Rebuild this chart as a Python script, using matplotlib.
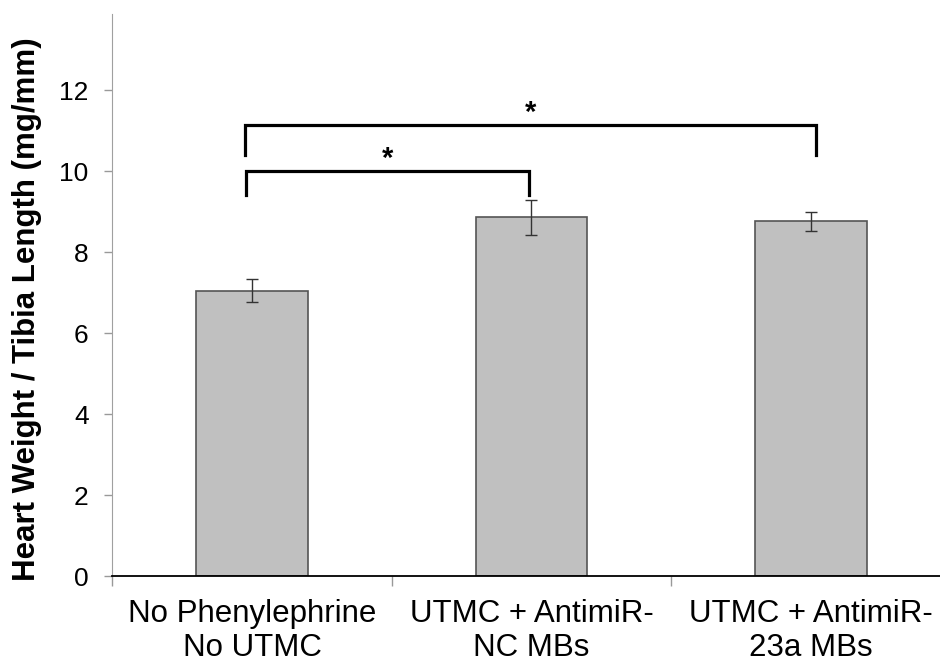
import matplotlib.pyplot as plt
import numpy as np

# Data
categories = ['No Phenylephrine\nNo UTMC', 'UTMC + AntimiR-\nNC MBs', 'UTMC + AntimiR-\n23a MBs']
values = [7.05, 8.86, 8.76]
errors = [0.28, 0.43, 0.23]

# significance brackets: (left x, right x, bar height, leg bottom)
brk_left = [-0.02, -0.025]
brk_right = [0.99, 2.02]
brk_top = [10.01, 11.14]
brk_leg = [9.41, 10.39]

plt.rcParams['font.family'] = ['Liberation Sans', 'DejaVu Sans']

fig = plt.figure(figsize=(9.4, 6.67), dpi=100)
ax = fig.add_axes([0.1195, 0.136, 0.8917, 0.843])

x = np.arange(len(categories))
ax.bar(x, values, width=0.4, color='#c0c0c0', edgecolor='#555555', linewidth=1.2, zorder=2)
ax.errorbar(x, values, yerr=errors, fmt='none', ecolor='#333333', elinewidth=1,
            capsize=4, capthick=1, zorder=3)

# brackets and stars
for xl, xr, yt, yl in zip(brk_left, brk_right, brk_top, brk_leg):
    ax.plot([xl, xl, xr, xr], [yl, yt, yt, yl], color='black', lw=2.3,
            solid_joinstyle='miter', zorder=4)
    ax.text((xl + xr) / 2, yt + 0.3, '*', ha='center', va='center',
            fontsize=21, fontweight='bold')

ax.set_xlim(-0.5, 2.5)
ax.set_ylim(0, 13.88)
ax.set_yticks(np.arange(0, 13, 2))
ax.tick_params(axis='y', labelsize=19, length=6, width=1, color='#999999', pad=11)

ax.set_xticks(x)
ax.set_xticklabels(categories, fontsize=22.5, linespacing=1.2)
ax.tick_params(axis='x', which='major', length=0, pad=16)
ax.set_xticks([-0.5, 0.5, 1.5, 2.5], minor=True)
ax.tick_params(axis='x', which='minor', length=7, width=1, color='#999999')

ax.set_ylabel('Heart Weight / Tibia Length (mg/mm)', fontsize=22.5, fontweight='bold', va='center')
ax.yaxis.set_label_coords(-0.1018, 0.475)

ax.spines['top'].set_visible(False)
ax.spines['right'].set_visible(False)
ax.spines['left'].set_color('#a0a0a0')
ax.spines['bottom'].set_color('black')
ax.spines['bottom'].set_linewidth(1.3)

plt.savefig('out.png', dpi=100)
